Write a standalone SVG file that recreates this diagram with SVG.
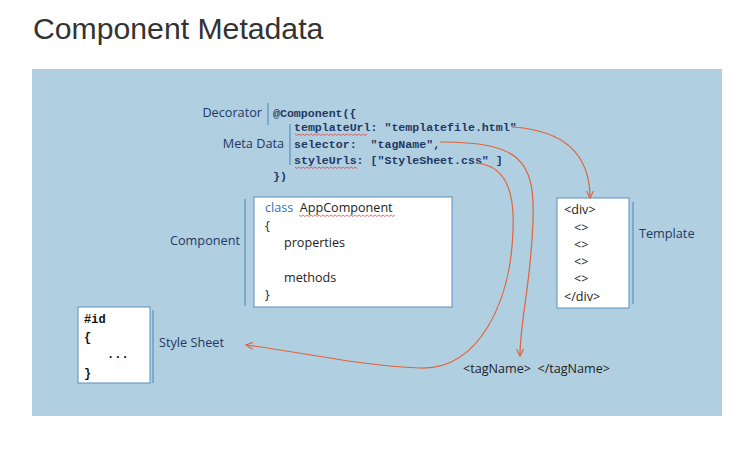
<svg xmlns="http://www.w3.org/2000/svg" width="745" height="451" viewBox="0 0 745 451">
<style>
text{white-space:pre}
.title{font-family:"Liberation Sans",Arial,sans-serif;font-size:30.2px;fill:#333}
.lbl{font-family:"Open Sans","Liberation Sans",sans-serif;font-size:12.7px;fill:#1f3864}
.code{font-family:"Liberation Mono",monospace;font-size:11.6px;font-weight:bold;fill:#1f3864}
.box{fill:#fff;stroke:#5a8fbf;stroke-width:1}
.bar{stroke:#5a8fbf;stroke-width:1.2;fill:none}
.txt{font-family:"Open Sans","Liberation Sans",sans-serif;font-size:12.6px;fill:#222}
.mono{font-family:"Liberation Mono",monospace;font-size:12px;font-weight:bold;fill:#111}
.conn{fill:none;stroke:#e0643a;stroke-width:1.2}
.sq{fill:none;stroke:#e33;stroke-width:0.7}
</style>
<defs>
<marker id="ah" viewBox="0 0 8 8" refX="7" refY="4" markerWidth="8" markerHeight="8" markerUnits="userSpaceOnUse" orient="auto">
<path d="M0,0.5 L7,4 L0,7.5" fill="none" stroke="#e0643a" stroke-width="1.2"/>
</marker>
</defs>
<rect width="745" height="451" fill="#fff"/>
<text class="title" x="33" y="39">Component Metadata</text>
<rect x="32" y="69" width="690" height="347" fill="#b0cfe1"/>

<g id="decorator">
<text class="lbl" x="262" y="117" text-anchor="end">Decorator</text>
<line class="bar" x1="268" y1="103" x2="268" y2="125"/>
<text class="code" x="273" y="117">@Component({</text>
</g>
<g id="metadata">
<text class="lbl" x="284" y="148" text-anchor="end">Meta Data</text>
<line class="bar" x1="290" y1="124" x2="290" y2="165"/>
<text class="code" x="294" y="131">templateUrl: "templatefile.html"</text>
<text class="code" x="294" y="148">selector:  "tagName",</text>
<text class="code" x="294" y="164">styleUrls: ["StyleSheet.css" ]</text>
<text class="code" x="273" y="180">})</text>
<path class="sq" d="M295,134 l2,1.5 l2,-1.5 l2,1.5 l2,-1.5 l2,1.5 l2,-1.5 l2,1.5 l2,-1.5 l2,1.5 l2,-1.5 l2,1.5 l2,-1.5 l2,1.5 l2,-1.5 l2,1.5 l2,-1.5 l2,1.5 l2,-1.5 l2,1.5 l2,-1.5 l2,1.5 l2,-1.5 l2,1.5 l2,-1.5 l2,1.5 l2,-1.5 l2,1.5 l2,-1.5 l2,1.5 l2,-1.5 l2,1.5 l2,-1.5 l2,1.5 l2,-1.5 l2,1.5 l2,-1.5"/>
<path class="sq" d="M295,167 l2,1.5 l2,-1.5 l2,1.5 l2,-1.5 l2,1.5 l2,-1.5 l2,1.5 l2,-1.5 l2,1.5 l2,-1.5 l2,1.5 l2,-1.5 l2,1.5 l2,-1.5 l2,1.5 l2,-1.5 l2,1.5 l2,-1.5 l2,1.5 l2,-1.5 l2,1.5 l2,-1.5 l2,1.5 l2,-1.5 l2,1.5 l2,-1.5 l2,1.5 l2,-1.5 l2,1.5 l2,-1.5 l2,1.5"/>
</g>

<g id="component">
<text class="lbl" x="170" y="245">Component</text>
<line class="bar" x1="245" y1="199" x2="245" y2="306"/>
<rect class="box" x="254" y="197" width="198" height="110"/>
<text class="txt" x="265" y="212"><tspan fill="#2e75b6">class</tspan>  AppComponent</text>
<path class="sq" d="M299,215 l2,1.5 l2,-1.5 l2,1.5 l2,-1.5 l2,1.5 l2,-1.5 l2,1.5 l2,-1.5 l2,1.5 l2,-1.5 l2,1.5 l2,-1.5 l2,1.5 l2,-1.5 l2,1.5 l2,-1.5 l2,1.5 l2,-1.5 l2,1.5 l2,-1.5 l2,1.5 l2,-1.5 l2,1.5 l2,-1.5 l2,1.5 l2,-1.5 l2,1.5 l2,-1.5 l2,1.5 l2,-1.5 l2,1.5 l2,-1.5 l2,1.5 l2,-1.5 l2,1.5 l2,-1.5 l2,1.5 l2,-1.5 l2,1.5 l2,-1.5 l2,1.5 l2,-1.5 l2,1.5 l2,-1.5 l2,1.5 l2,-1.5 l2,1.5 l2,-1.5"/>
<text class="txt" x="265" y="230">{</text>
<text class="txt" x="284" y="247">properties</text>
<text class="txt" x="284" y="282">methods</text>
<text class="txt" x="265" y="299">}</text>
</g>

<g id="template">
<rect class="box" x="557" y="198" width="72" height="110"/>
<line class="bar" x1="633" y1="202" x2="633" y2="304"/>
<text class="lbl" x="639" y="238">Template</text>
<text class="txt" x="564" y="214">&lt;div&gt;</text>
<text class="txt" x="574" y="232">&lt;&gt;</text>
<text class="txt" x="574" y="249">&lt;&gt;</text>
<text class="txt" x="574" y="266">&lt;&gt;</text>
<text class="txt" x="574" y="283">&lt;&gt;</text>
<text class="txt" x="564" y="301">&lt;/div&gt;</text>
</g>

<g id="stylesheet">
<rect class="box" x="78" y="307" width="72" height="76"/>
<line class="bar" x1="153" y1="310" x2="153" y2="383"/>
<text class="lbl" x="159" y="347">Style Sheet</text>
<text class="mono" x="84" y="323">#id</text>
<text class="mono" x="84" y="341">{</text>
<text class="mono" x="107" y="358">...</text>
<text class="mono" x="84" y="377">}</text>
</g>

<g id="tagname">
<text class="txt" x="463" y="373">&lt;tagName&gt;  &lt;/tagName&gt;</text>
</g>

<g id="connectors">
<path class="conn" marker-end="url(#ah)" d="M512,127 C560,130 590,150 590,198"/>
<path class="conn" marker-end="url(#ah)" d="M440,142 C520,142 535,160 533,220 C531,285 520,320 520,356"/>
<path class="conn" marker-end="url(#ah)" d="M476,163 C505,165 515,190 513,230 C511,300 480,370 420,368 C360,366 290,350 246,345"/>
</g>
</svg>
